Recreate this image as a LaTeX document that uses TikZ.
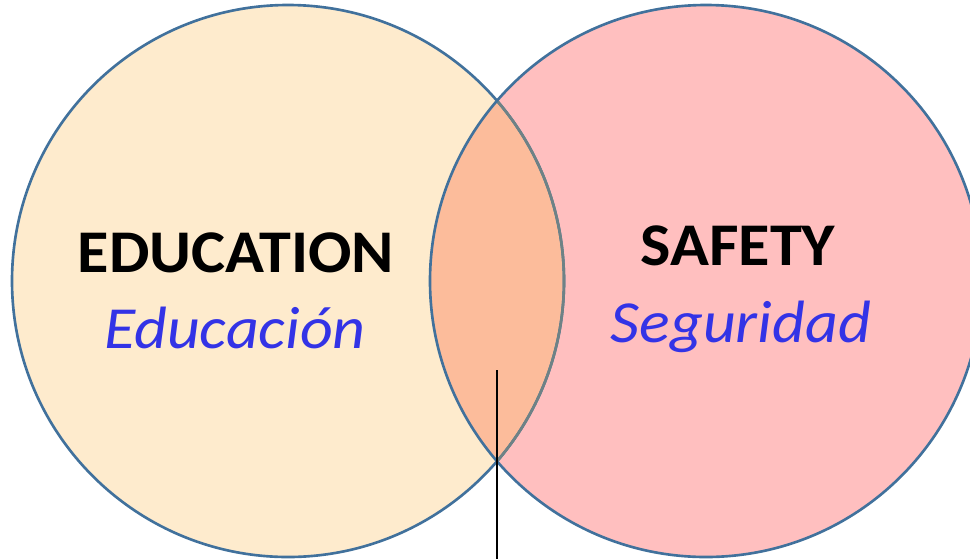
\documentclass[tikz,border=0pt]{standalone}
\usepackage{fontspec}
\setmainfont{Carlito}
\usepackage{xcolor}
\usetikzlibrary{positioning}
\definecolor{setline}{HTML}{41719C}
\definecolor{edufill}{HTML}{FEEBCD}
\definecolor{safefill}{HTML}{FFBFBF}
\definecolor{bothfill}{HTML}{FCBC9B}
\definecolor{hidline}{HTML}{6E8285}
\definecolor{esblue}{HTML}{3333E6}
\tikzset{
  setring/.style  = {draw=setline, line width=1.5pt},
  title/.style    = {font=\fontsize{34.5}{40}\selectfont\bfseries, anchor=base, inner sep=0pt,
                     transform shape, xscale=1.06},
  gloss/.style    = {font=\fontsize{34}{40}\selectfont\itshape, text=esblue, anchor=base, inner sep=0pt,
                     transform shape, xscale=1.07},
}

\begin{document}
\begin{tikzpicture}[x=0.02cm, y=-0.02cm]
  \useasboundingbox (0,0) rectangle (970,559);

  % the two sets
  \fill[edufill] (288,281) circle (276);
  \fill[safefill] (706,281) circle (276);
  \begin{scope}
    \clip (288,281) circle (276);
    \fill[bothfill] (706,281) circle (276);
  \end{scope}
  \draw[setring] (288,281) circle (276);
  \begin{scope}
    \clip (706,281) circle (276);
    \draw[setring, draw=hidline] (288,281) circle (276);
  \end{scope}
  \draw[setring] (706,281) circle (276);

  % labels
  \node[title] (edu) at (236,272) {EDUCATION};
  \node[gloss] (edues) at (235,348) {Educación};
  \node[title] (safe) at (738,265) {SAFETY};
  \node[gloss] (safees) at (741,342) {Seguridad};

  % pointer from the overlap
  \coordinate (ptop) at (497,370);
  \coordinate (pbot) at (497,559);
  \draw[line width=0.85pt] (ptop) -- (pbot);
\end{tikzpicture}
\end{document}
